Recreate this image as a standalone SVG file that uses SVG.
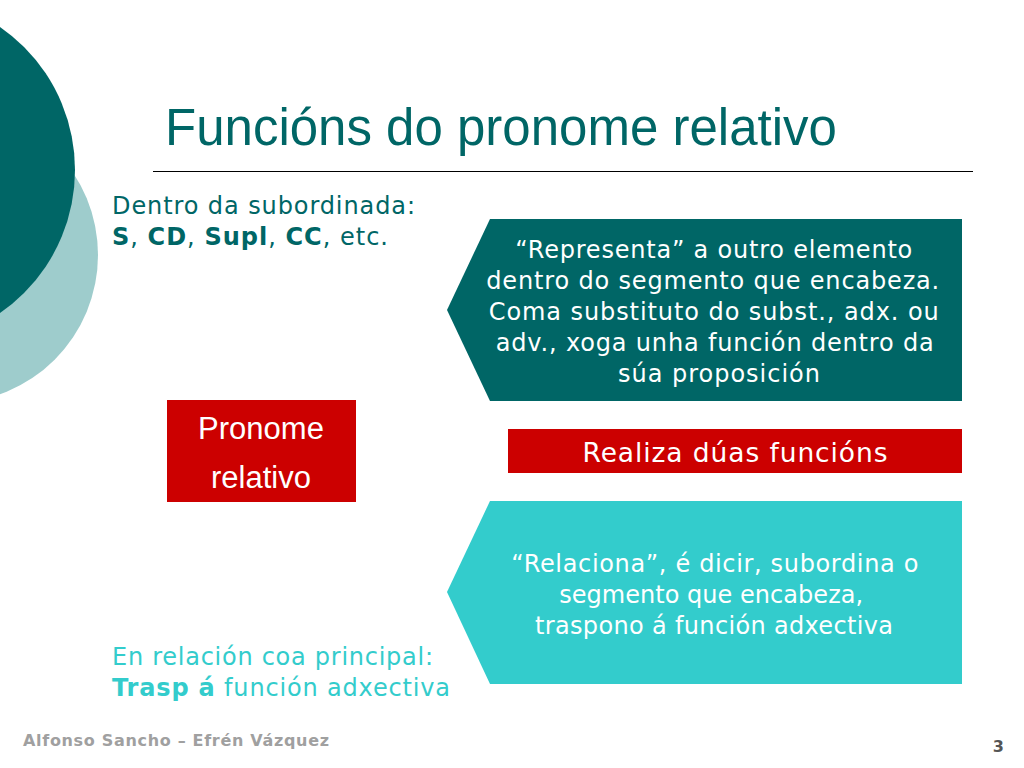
<svg xmlns="http://www.w3.org/2000/svg" width="1024" height="768" viewBox="0 0 1024 768">
<style>
.v{font-family:"DejaVu Sans","Verdana",sans-serif}
.a{font-family:"Liberation Sans",Arial,sans-serif}
.w{fill:#ffffff}
.c{text-anchor:middle}
.t{fill:#006666}
.cy{fill:#33CCCC}
</style>
<rect width="1024" height="768" fill="#ffffff"/>
<g id="decor">
<circle cx="-50" cy="255" r="148" fill="#9ECCCC"/>
<circle cx="-99" cy="170" r="174" fill="#006666"/>
</g>
<g id="title">
<text x="165" y="145" class="a t" font-size="51">Funcións do pronome relativo</text>
<line x1="153" y1="171.5" x2="973" y2="171.5" stroke="#000000" stroke-width="1"/>
</g>
<g id="subordinada">
<text x="112" y="214" class="v t" font-size="24" textLength="303" lengthAdjust="spacing">Dentro da subordinada:</text>
<text x="112" y="245" class="v t" font-size="24" textLength="276" lengthAdjust="spacing"><tspan font-weight="bold">S</tspan>, <tspan font-weight="bold">CD</tspan>, <tspan font-weight="bold">Supl</tspan>, <tspan font-weight="bold">CC</tspan>, etc.</text>
</g>
<g id="pronome">
<rect x="167" y="400" width="189" height="102" fill="#CC0000"/>
<text x="261" y="439" class="a w c" font-size="31">Pronome</text>
<text x="261" y="488" class="a w c" font-size="31">relativo</text>
</g>
<g id="representa">
<polygon points="490,219 962,219 962,401 490,401 447,310" fill="#006666"/>
<text class="v w c" font-size="24">
<tspan x="718" y="258" textLength="397" lengthAdjust="spacing">“Representa” a outro elemento</tspan>
<tspan x="717" y="289" textLength="453" lengthAdjust="spacing">dentro do segmento que encabeza.</tspan>
<tspan x="718" y="320" textLength="450" lengthAdjust="spacing">Coma substituto do subst., adx. ou</tspan>
<tspan x="719" y="351" textLength="438" lengthAdjust="spacing">adv., xoga unha función dentro da</tspan>
<tspan x="719" y="382" textLength="202" lengthAdjust="spacing">súa proposición</tspan>
</text>
</g>
<g id="realiza">
<rect x="508" y="429" width="454" height="44" fill="#CC0000"/>
<text x="735" y="462" class="v w c" font-size="26.5" textLength="305" lengthAdjust="spacing">Realiza dúas funcións</text>
</g>
<g id="relaciona">
<polygon points="490,501 962,501 962,684 490,684 447,592" fill="#33CCCC"/>
<text class="v w c" font-size="24">
<tspan x="719" y="572" textLength="407" lengthAdjust="spacing">“Relaciona”, é dicir, subordina o</tspan>
<tspan x="715" y="603" textLength="304" lengthAdjust="spacing">segmento que encabeza,</tspan>
<tspan x="714" y="634" textLength="358" lengthAdjust="spacing">traspono á función adxectiva</tspan>
</text>
</g>
<g id="principal">
<text x="112" y="665" class="v cy" font-size="24" textLength="321" lengthAdjust="spacing">En relación coa principal:</text>
<text x="112" y="696" class="v cy" font-size="24" textLength="338" lengthAdjust="spacing"><tspan font-weight="bold">Trasp á</tspan> función adxectiva</text>
</g>
<g id="connectors"></g>
<g id="footer">
<text x="23" y="746" class="v" font-size="16" font-weight="bold" fill="#A0A0A0" textLength="306" lengthAdjust="spacing">Alfonso Sancho – Efrén Vázquez</text>
<text x="1004" y="752" class="v" font-size="16" font-weight="bold" fill="#555555" text-anchor="end">3</text>
</g>
</svg>
